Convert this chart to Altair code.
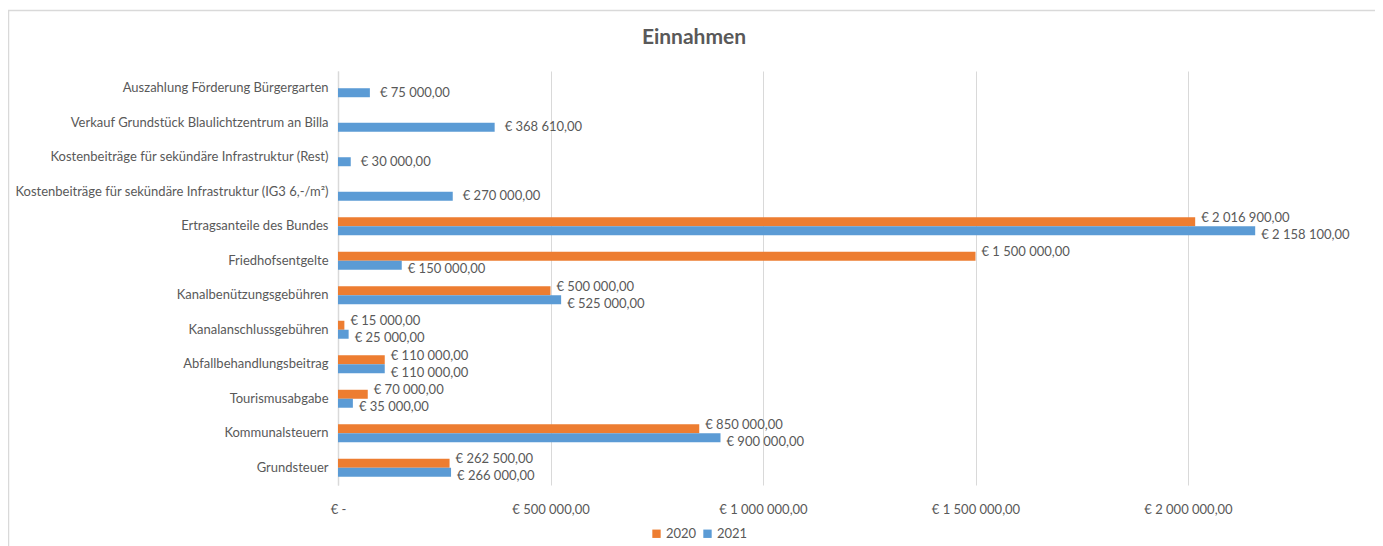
import altair as alt
import pandas as pd

categories = [
    "Auszahlung Förderung Bürgergarten",
    "Verkauf Grundstück Blaulichtzentrum an Billa",
    "Kostenbeiträge für sekündäre Infrastruktur (Rest)",
    "Kostenbeiträge für sekündäre Infrastruktur (IG3 6,-/m²)",
    "Ertragsanteile des Bundes",
    "Friedhofsentgelte",
    "Kanalbenützungsgebühren",
    "Kanalanschlussgebühren",
    "Abfallbehandlungsbeitrag",
    "Tourismusabgabe",
    "Kommunalsteuern",
    "Grundsteuer",
]
values_2020 = [None, None, None, None, 2016900, 1500000, 500000, 15000, 110000, 70000, 850000, 262500]
values_2021 = [75000, 368610, 30000, 270000, 2158100, 150000, 525000, 25000, 110000, 35000, 900000, 266000]
series = ["2020", "2021"]
colors = ["#ED7D31", "#5B9BD5"]
tick_values = [0, 500000, 1000000, 1500000, 2000000]
tick_labels = ["€ -", "€ 500 000,00", "€ 1 000 000,00", "€ 1 500 000,00", "€ 2 000 000,00"]
title_text = "Einnahmen"


def euro(v):
    s = f"{v:,.2f}"
    s = s.replace(",", " ").replace(".", ",")
    return "€ " + s


rows = []
for i, c in enumerate(categories):
    for s, vals in zip(series, [values_2020, values_2021]):
        v = vals[i]
        if v is None:
            continue
        only = values_2020[i] is None
        rows.append({"Kategorie": c, "Jahr": s, "Wert": v, "Label": euro(v), "only": only})
df = pd.DataFrame(rows)

label_expr = " : ".join(
    f"datum.value == {v} ? '{l}'" for v, l in zip(tick_values, tick_labels)
) + " : ''"

FONT = "Lato"
TXT = "#595959"
W, H = 1020, 414

y_enc = alt.Y(
    "Kategorie:N",
    sort=categories,
    scale=alt.Scale(paddingInner=0.48, paddingOuter=0.24),
    axis=alt.Axis(
        title=None, ticks=False, domain=True, domainColor="#d9d9d9", domainWidth=1.5,
        labelFont=FONT, labelFontSize=13, labelColor=TXT, labelPadding=10,
        labelLimit=400, grid=False,
    ),
)
x_enc = alt.X(
    "Wert:Q",
    scale=alt.Scale(domain=[0, 2400000], nice=False),
    axis=alt.Axis(
        title=None, values=tick_values, labelExpr=label_expr, ticks=False, domain=False,
        grid=True, gridColor="#d9d9d9", gridWidth=1,
        labelFont=FONT, labelFontSize=13, labelColor=TXT, labelPadding=18,
        labelFlush=False,
    ),
)
yoff = alt.YOffset("Jahr:N", scale=alt.Scale(domain=series, paddingInner=0, paddingOuter=0))
color = alt.Color(
    "Jahr:N",
    scale=alt.Scale(domain=series, range=colors),
    legend=alt.Legend(
        title=None, orient="none", direction="horizontal", legendX=312, legendY=456,
        symbolType="square", symbolSize=70, symbolStrokeWidth=0,
        labelFont=FONT, labelFontSize=13, labelColor=TXT, columnPadding=4, labelOffset=3,
    ),
)

bars = alt.Chart(df).mark_bar(size=9).encode(y=y_enc, x=x_enc, yOffset=yoff, color=color)

base_t = alt.Chart(df).encode(
    y=alt.Y("Kategorie:N", sort=categories), x="Wert:Q", yOffset=yoff, text="Label:N"
)
t2020 = base_t.transform_filter("datum.Jahr == '2020'").mark_text(
    align="left", dx=6, dy=-4, font=FONT, fontSize=13, color=TXT
)
t2021 = base_t.transform_filter("datum.Jahr == '2021' && !datum.only").mark_text(
    align="left", dx=6, dy=4, font=FONT, fontSize=13, color=TXT
)
tonly = base_t.transform_filter("datum.only").mark_text(
    align="left", dx=10, dy=0, font=FONT, fontSize=13, color=TXT
)

frame = alt.Chart(pd.DataFrame({"a": [0]})).mark_rect(
    fill=None, stroke="#d9d9d9", strokeWidth=1.5, clip=False
).encode(
    x=alt.value(-329.5), x2=alt.value(1038), y=alt.value(-60.5), y2=alt.value(500)
)

title = alt.Chart(pd.DataFrame({"t": [title_text]})).mark_text(
    font=FONT, fontSize=21, fontWeight="bold", color=TXT, baseline="middle", align="center"
).encode(text="t:N", x=alt.value(356), y=alt.value(-33))

chart = (
    alt.layer(frame, bars, t2020, t2021, tonly, title)
    .properties(
        width=W,
        height=H,
        background="white",
        autosize=alt.AutoSizeParams(type="none"),
        padding={"left": 330, "top": 63, "right": 17, "bottom": 61},
    )
    .configure_view(strokeWidth=0, stroke="transparent")
)

chart.save("out.html", embed_options={"renderer": "svg", "actions": False})
